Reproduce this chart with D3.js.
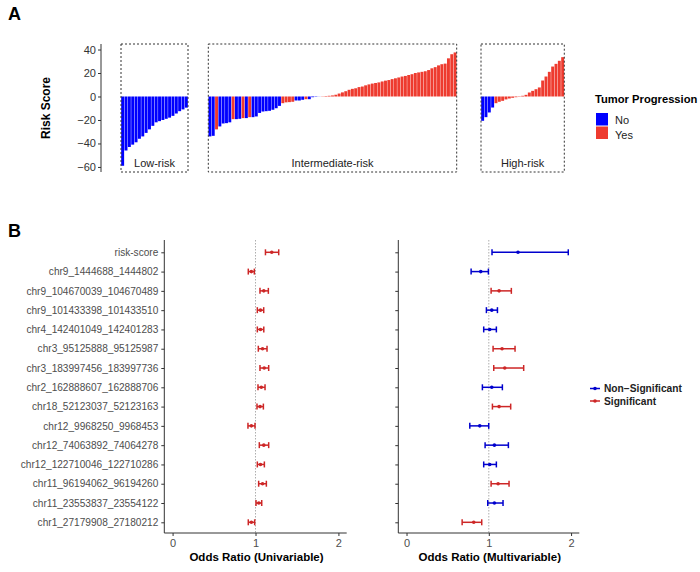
<!DOCTYPE html>
<html><head><meta charset="utf-8">
<script src="https://cdn.jsdelivr.net/npm/d3@7"></script>
<style>body{margin:0;background:#fff;font-family:"Liberation Sans",Arial,sans-serif;}</style>
</head><body><svg id="c" width="700" height="572"></svg>
<script>
// ---------- Panel A data ----------
const lowRisk = [-59,-46,-43,-41,-39,-36,-34,-31,-28,-25,-22,-21,-20,-19,-18,-16.5,-14.5,-12.5,-11,-9.5];
const lowProg = Array(20).fill("No");
const interRisk = [-34,-33.5,-28,-25.5,-23,-22.7,-22,-19.3,-19.3,-19,-18.4,-18.4,-17.6,-17.6,-17,-14,-12.8,-12.5,-12.2,-11.3,-10,-8,-5.7,-5,-4.8,-4.5,-3.4,-3.4,-2.8,-2.3,-2.3,-0.6,-0.3,-0.1,0.2,0.4,0.6,0.9,1.5,2.5,3.5,4.5,5.7,6.5,7,8,8.5,9.5,10.3,11,11.5,12,12.8,13.5,14,14.8,15.5,16.2,17,17.5,18.3,19,20,20.5,21,21.5,22.5,24,25,26.5,27.5,28,32.5,36,37.5];
const interProg = ["No","No","Yes","No","No","No","No","Yes","No","No","Yes","No","Yes","No","No","No","No","No","No","No","No","No","Yes","Yes","Yes","Yes","No","No","No","Yes","No","No","No","No"].concat(Array(41).fill("Yes"));
const highRisk = [-20.7,-17.6,-13.6,-9.4,-5.7,-4.5,-3.7,-2.5,-1.7,-1.1,-0.6,-0.3,0.6,1.4,3.4,4.8,6.2,7.7,13.6,17,21,25.5,27.8,30.4,33.5];
const highProg = ["No","No","No","No"].concat(Array(21).fill("Yes"));
const groupNames = ["Low-risk","Intermediate-risk","High-risk"];
const yTicksA = [40,20,0,-20,-40,-60];
const progLevels = ["No","Yes"];

// ---------- Panel B data ----------
const features = ["risk-score","chr9_1444688_1444802","chr9_104670039_104670489","chr9_101433398_101433510","chr4_142401049_142401283","chr3_95125888_95125987","chr3_183997456_183997736","chr2_162888607_162888706","chr18_52123037_52123163","chr12_9968250_9968453","chr12_74063892_74064278","chr12_122710046_122710286","chr11_96194062_96194260","chr11_23553837_23554122","chr1_27179908_27180212"];
const uniOR = [1.196,0.95,1.10,1.06,1.06,1.085,1.105,1.07,1.055,0.95,1.10,1.06,1.085,1.04,0.95];
const uniLo = [1.12,0.913,1.054,1.022,1.022,1.034,1.054,1.03,1.018,0.909,1.046,1.022,1.038,1.006,0.913];
const uniHi = [1.28,0.986,1.155,1.099,1.10,1.139,1.159,1.115,1.095,0.994,1.159,1.107,1.131,1.075,0.99];
const uniSig = Array(15).fill("Significant");
const multiOR = [1.355,0.902,1.125,1.036,1.011,1.161,1.194,1.036,1.125,0.89,1.068,1.011,1.113,1.068,0.817];
const multiLo = [1.039,0.785,1.028,0.971,0.938,1.052,1.06,0.922,1.044,0.769,0.955,0.938,1.028,0.987,0.676];
const multiHi = [1.966,0.995,1.274,1.105,1.092,1.319,1.424,1.165,1.266,0.999,1.238,1.092,1.246,1.173,0.914];
const multiSig = ["Non-Significant","Non-Significant","Significant","Non-Significant","Non-Significant","Significant","Significant","Non-Significant","Significant","Non-Significant","Non-Significant","Non-Significant","Significant","Non-Significant","Significant"];
const xTicksB = [0,1,2];
const sigLevels = ["Non-Significant","Significant"];
const sigLabels = ["Non\u2212Significant","Significant"];

const svg = d3.select("#c");
const font = "'Liberation Sans',Arial,sans-serif";

// ---------- Panel A ----------
svg.append("text").attr("x",8).attr("y",20).text("A").attr("font-size",18).attr("font-weight","bold").attr("font-family",font);
const yA = d3.scaleLinear().domain([-64.3,44.7]).range([172,44]);
const fillA = d3.scaleOrdinal().domain(progLevels).range(["#0000FF","#EE3B2F"]);
const axA = svg.append("g").attr("transform","translate(101,0)").call(d3.axisLeft(yA).tickValues(yTicksA).tickSize(3).tickPadding(2));
axA.select(".domain").attr("stroke","#333").attr("d","M0,44V172");
axA.selectAll(".tick line").attr("stroke","#333");
axA.selectAll("text").attr("font-size",11).attr("fill","#333").attr("font-family",font);
svg.append("text").attr("transform","translate(50,108) rotate(-90)").attr("text-anchor","middle")
  .text("Risk Score").attr("font-size",12).attr("font-weight","bold").attr("font-family",font);

const groups = [
  {vals:lowRisk, prog:lowProg, x0:121, x1:188},
  {vals:interRisk, prog:interProg, x0:208.3, x1:456.7},
  {vals:highRisk, prog:highProg, x0:481, x1:564.3}
];
groups.forEach((g,gi)=>{
  const xs = d3.scaleBand().domain(d3.range(g.vals.length)).range([g.x0,g.x1]).paddingInner(0.12).paddingOuter(0.05);
  const gg = svg.append("g");
  gg.selectAll("rect").data(g.vals).join("rect")
    .attr("x",(d,i)=>xs(i)).attr("width",xs.bandwidth())
    .attr("y",d=>yA(Math.max(0,d))).attr("height",d=>Math.abs(yA(d)-yA(0)))
    .attr("fill",(d,i)=>fillA(g.prog[i]));
  svg.append("rect").attr("x",g.x0).attr("y",44).attr("width",g.x1-g.x0).attr("height",128)
    .attr("fill","none").attr("stroke","#333").attr("stroke-width",1).attr("stroke-dasharray","2,2");
  svg.append("text").attr("x",(g.x0+g.x1)/2).attr("y",167).attr("text-anchor","middle")
    .text(groupNames[gi]).attr("font-size",11).attr("fill","#222").attr("font-family",font);
});
// legend A
svg.append("text").attr("x",595).attr("y",103).text("Tumor Progression").attr("font-size",11.2).attr("font-weight","bold").attr("font-family",font);
progLevels.forEach((p,i)=>{
  svg.append("rect").attr("x",596).attr("y",113+i*13.5).attr("width",12).attr("height",12.5).attr("fill",fillA(p));
  svg.append("text").attr("x",615).attr("y",123.5+i*15).text(p).attr("font-size",11).attr("fill","#222").attr("font-family",font);
});

// ---------- Panel B ----------
svg.append("text").attr("x",8).attr("y",237).text("B").attr("font-size",18).attr("font-weight","bold").attr("font-family",font);
const yB = d3.scalePoint().domain(features).range([252.3,522.3]);
const colB = d3.scaleOrdinal().domain(sigLevels).range(["#0000CD","#CD2626"]);

function forest(x0, x1, est, lo, hi, sig, showLabels, title){
  const x = d3.scaleLinear().domain([-0.1,2.1]).range([x0,x1]);
  const g = svg.append("g");
  g.append("line").attr("x1",x(1)).attr("x2",x(1)).attr("y1",240).attr("y2",533)
    .attr("stroke","#999").attr("stroke-width",0.8).attr("stroke-dasharray","1.5,1.5");
  const ax = svg.append("g").attr("transform",`translate(${x0},0)`).call(d3.axisLeft(yB).tickSize(3).tickPadding(3));
  ax.select(".domain").attr("d","M0,240V533").attr("stroke","#333");
  ax.selectAll(".tick line").attr("stroke","#333");
  ax.selectAll("text").attr("font-size",10.1).attr("fill","#4D4D4D").attr("font-family",font);
  if(!showLabels) ax.selectAll("text").remove();
  const bx = svg.append("g").attr("transform","translate(0,533)").call(d3.axisBottom(x).tickValues(xTicksB).tickFormat(d3.format("d")).tickSize(3).tickPadding(3));
  bx.select(".domain").attr("d",`M${x0},0H${x1}`).attr("stroke","#333");
  bx.selectAll(".tick line").attr("stroke","#333");
  bx.selectAll("text").attr("font-size",11).attr("fill","#4D4D4D").attr("font-family",font);
  svg.append("text").attr("x",(x0+x1)/2+1).attr("y",561).attr("text-anchor","middle")
    .text(title).attr("font-size",11.5).attr("font-weight","bold").attr("font-family",font);
  const rows = features.map((f,i)=>({f,e:est[i],l:lo[i],h:hi[i],s:sig[i]}));
  const r = g.selectAll("g.row").data(rows).join("g").attr("class","row");
  r.append("line").attr("x1",d=>x(d.l)).attr("x2",d=>x(d.h)).attr("y1",d=>yB(d.f)).attr("y2",d=>yB(d.f))
    .attr("stroke",d=>colB(d.s)).attr("stroke-width",1.5);
  r.append("line").attr("x1",d=>x(d.l)).attr("x2",d=>x(d.l)).attr("y1",d=>yB(d.f)-3).attr("y2",d=>yB(d.f)+3)
    .attr("stroke",d=>colB(d.s)).attr("stroke-width",1.5);
  r.append("line").attr("x1",d=>x(d.h)).attr("x2",d=>x(d.h)).attr("y1",d=>yB(d.f)-3).attr("y2",d=>yB(d.f)+3)
    .attr("stroke",d=>colB(d.s)).attr("stroke-width",1.5);
  r.append("circle").attr("cx",d=>x(d.e)).attr("cy",d=>yB(d.f)).attr("r",1.8).attr("fill",d=>colB(d.s));
}
forest(164.3, 346.7, uniOR, uniLo, uniHi, uniSig, true, "Odds Ratio (Univariable)");
forest(398.3, 579.3, multiOR, multiLo, multiHi, multiSig, false, "Odds Ratio (Multivariable)");

// legend B
sigLevels.forEach((s,i)=>{
  const yy = 388.5 + i*12.5;
  svg.append("line").attr("x1",590).attr("x2",600).attr("y1",yy).attr("y2",yy).attr("stroke",colB(s)).attr("stroke-width",1.5);
  svg.append("circle").attr("cx",595).attr("cy",yy).attr("r",1.8).attr("fill",colB(s));
  svg.append("text").attr("x",604).attr("y",yy+3.8).text(sigLabels[i]).attr("font-size",10.2).attr("font-weight","bold").attr("fill","#222").attr("font-family",font);
});
</script></body></html>
